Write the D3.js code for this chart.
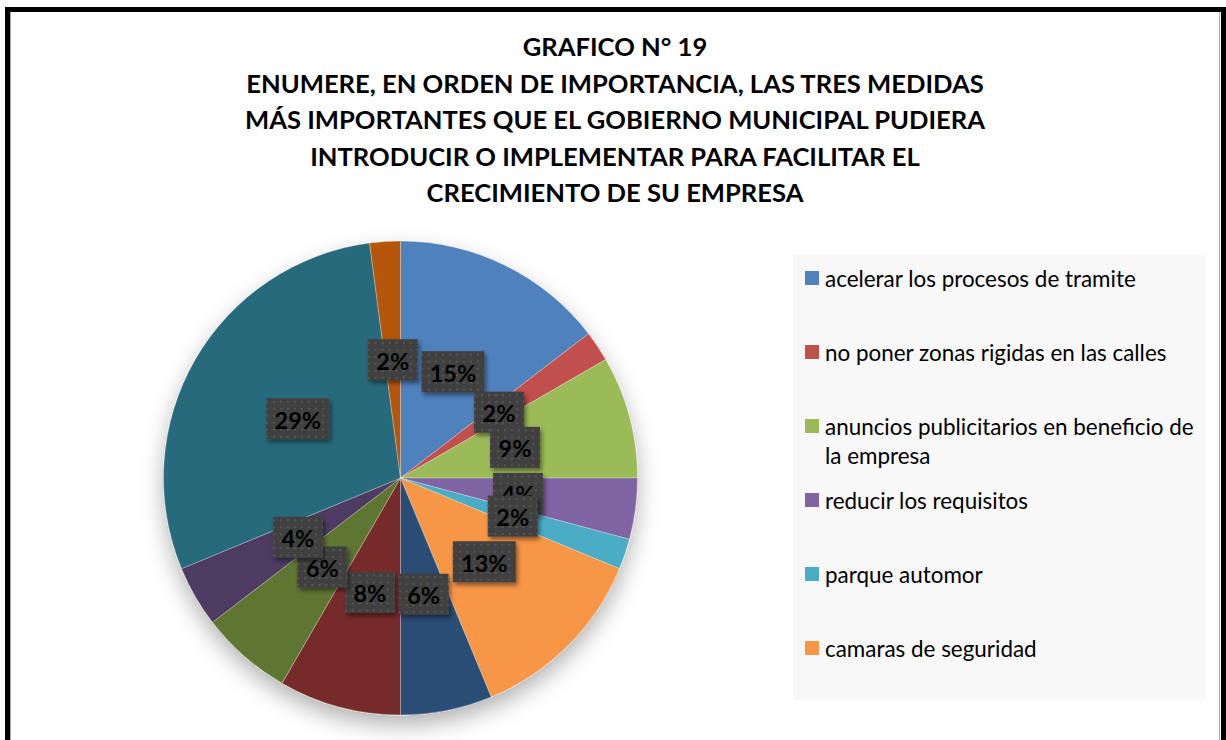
<!DOCTYPE html>
<html>
<head>
<meta charset="utf-8">
<script src="https://cdn.jsdelivr.net/npm/d3@7"></script>
<style>
  html, body { margin: 0; padding: 0; background: #fff; }
  svg { display: block; }
</style>
</head>
<body>
<svg id="chart" width="1226" height="740"></svg>
<script>
// ---- data ----
const titleLines = [
  "GRAFICO N° 19",
  "ENUMERE, EN ORDEN DE IMPORTANCIA, LAS TRES MEDIDAS",
  "MÁS IMPORTANTES QUE EL GOBIERNO MUNICIPAL PUDIERA",
  "INTRODUCIR O IMPLEMENTAR PARA FACILITAR EL",
  "CRECIMIENTO DE SU EMPRESA"
];
const sliceValues = [7, 1, 4, 2, 1, 6, 3, 4, 3, 2, 14, 1];
const sliceLabels = ["15%", "2%", "9%", "4%", "2%", "13%", "6%", "8%", "6%", "4%", "29%", "2%"];
const sliceColors = ["#4F81BD", "#C0504D", "#9BBB59", "#8064A2", "#4BACC6", "#F79646",
                     "#2C4D75", "#772C2A", "#5F7530", "#4D3B62", "#276A7C", "#B65708"];
const legendNames = [
  ["acelerar los procesos de tramite"],
  ["no poner zonas rigidas en las calles"],
  ["anuncios publicitarios en beneficio de", "la empresa"],
  ["reducir los requisitos"],
  ["parque automor"],
  ["camaras de seguridad"]
];

// ---- drawing ----
const svg = d3.select("#chart");
const defs = svg.append("defs");

const pieShadow = defs.append("filter").attr("id", "pieShadow")
  .attr("x", "-20%").attr("y", "-20%").attr("width", "140%").attr("height", "150%");
pieShadow.append("feDropShadow").attr("dx", 0).attr("dy", 10).attr("stdDeviation", 11)
  .attr("flood-color", "#000").attr("flood-opacity", 0.3);

const boxShadow = defs.append("filter").attr("id", "boxShadow")
  .attr("x", "-20%").attr("y", "-20%").attr("width", "150%").attr("height", "160%");
boxShadow.append("feDropShadow").attr("dx", 2).attr("dy", 3).attr("stdDeviation", 2)
  .attr("flood-color", "#000").attr("flood-opacity", 0.45);

const dots = defs.append("pattern").attr("id", "dots")
  .attr("width", 7).attr("height", 7).attr("patternUnits", "userSpaceOnUse");
dots.append("rect").attr("width", 7).attr("height", 7).attr("fill", "#404040");
dots.append("rect").attr("x", 3).attr("y", 3).attr("width", 2).attr("height", 2).attr("fill", "#565656");

// frame
svg.append("rect").attr("x", 0).attr("y", 0).attr("width", 1226).attr("height", 740).attr("fill", "#fff");
svg.append("rect").attr("x", 7.5).attr("y", 9.5).attr("width", 1216).attr("height", 760)
  .attr("fill", "none").attr("stroke", "#000").attr("stroke-width", 5);
svg.append("line").attr("x1", 10.5).attr("x2", 10.5).attr("y1", 12).attr("y2", 740)
  .attr("stroke", "#aaa").attr("stroke-width", 1);
svg.append("line").attr("x1", 1219.5).attr("x2", 1219.5).attr("y1", 12).attr("y2", 740)
  .attr("stroke", "#aaa").attr("stroke-width", 1);

// title
const titleG = svg.append("g");
const titleY = d3.scalePoint().domain(d3.range(titleLines.length)).range([46, 192]);
const tt = titleG.selectAll("text").data(titleLines).join("text")
  .attr("x", 615).attr("y", (d, i) => titleY(i))
  .attr("text-anchor", "middle").attr("dominant-baseline", "central")
  .attr("font-family", "Lato, 'Open Sans', sans-serif").attr("font-weight", "bold")
  .attr("font-size", 24).attr("fill", "#000")
  .text(d => d);
{
  const w = tt.nodes()[2].getComputedTextLength();
  const fs = 24 * 740 / w;
  tt.attr("font-size", fs);
}

// pie
const cx = 400.5, cy = 478, R = 237;
const pie = d3.pie().sort(null).value(d => d)(sliceValues);
const arc = d3.arc().innerRadius(0).outerRadius(R);
const pieG = svg.append("g").attr("transform", `translate(${cx},${cy})`);
pieG.append("g").attr("filter", "url(#pieShadow)")
  .selectAll("path").data(pie).join("path")
  .attr("d", arc)
  .attr("fill", (d, i) => sliceColors[i])
  .attr("stroke", "#ffffff").attr("stroke-opacity", 0.35).attr("stroke-width", 0.8);

// labels
const labG = pieG.append("g");
pie.forEach((d, i) => {
  const [x, y] = arc.centroid(d);
  const g = labG.append("g").attr("transform", `translate(${x},${y})`);
  const txt = sliceLabels[i];
  const bw = txt.length >= 3 ? 63 : 50;
  g.append("rect").attr("x", -bw / 2).attr("y", -20.5).attr("width", bw).attr("height", 41)
    .attr("fill", "url(#dots)").attr("filter", "url(#boxShadow)");
  g.append("text").attr("x", 0).attr("y", 1)
    .attr("text-anchor", "middle").attr("dominant-baseline", "central")
    .attr("font-family", "Lato, 'Open Sans', sans-serif").attr("font-weight", "bold")
    .attr("font-size", 23.5).attr("fill", "#000").text(txt);
});

// legend
svg.append("rect").attr("x", 793).attr("y", 255).attr("width", 413).attr("height", 445).attr("fill", "#F8F8F8");
const legY = d3.scaleLinear().domain([0, 5]).range([278, 648]);
const legG = svg.append("g");
const legTexts = [];
legendNames.forEach((lines, i) => {
  const y = legY(i);
  legG.append("rect").attr("x", 805).attr("y", y - 7).attr("width", 14).attr("height", 14)
    .attr("fill", sliceColors[i]);
  lines.forEach((ln, j) => {
    const t = legG.append("text").attr("x", 825).attr("y", y + j * 29)
      .attr("dominant-baseline", "central")
      .attr("font-family", "Lato, 'Open Sans', sans-serif")
      .attr("font-size", 20).attr("fill", "#000").text(ln);
    legTexts.push(t);
  });
});
{
  const w = legTexts[0].node().getComputedTextLength();
  const fs = 20 * 311 / w;
  legTexts.forEach(t => t.attr("font-size", fs));
}
</script>
</body>
</html>
